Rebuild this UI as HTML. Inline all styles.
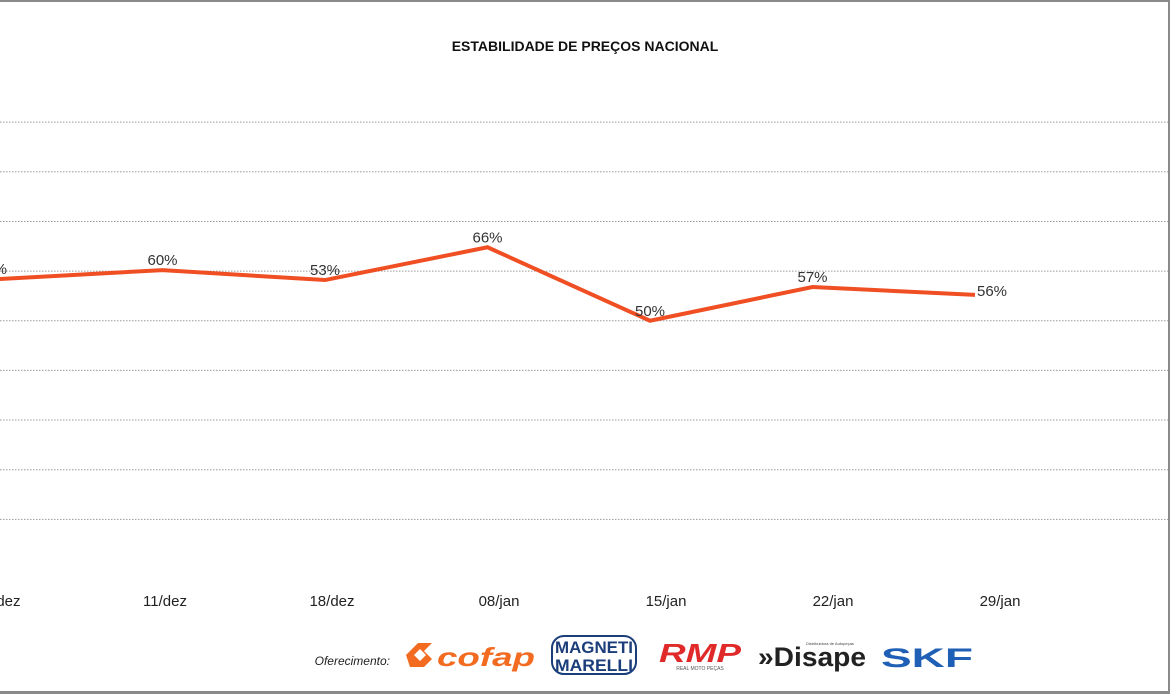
<!DOCTYPE html>
<html><head><meta charset="utf-8"><style>
body{margin:0;background:#fff;}
#wrap{position:relative;width:1170px;height:694px;overflow:hidden;font-family:"Liberation Sans",sans-serif;}
svg text{font-family:"Liberation Sans",sans-serif;}
</style></head><body>
<div id="wrap">
<svg id="chart" width="1170" height="694">
  <rect x="0" y="0" width="1170" height="2" fill="#8a8a8a"/>
  <rect x="0" y="691" width="1170" height="3" fill="#8a8a8a"/>
  <rect x="1168" y="0" width="2" height="694" fill="#8a8a8a"/>
  <text x="585" y="51" text-anchor="middle" font-size="14" font-weight="bold" fill="#111">ESTABILIDADE DE PREÇOS NACIONAL</text>
  <g id="grid"></g>
  <g id="series"></g>
  <g id="xaxis"></g>
  <text x="390" y="665" text-anchor="end" font-size="12" font-style="italic" fill="#222">Oferecimento:</text>
  <g>
    <path d="M406 655 l12 -12 h14 l-8 8 l8 8 l-8 8 h-14 z M414 655 l6 6 l6 -6 l-6 -6 z" fill="#f26b21" fill-rule="evenodd"/>
    <text x="437" y="666" font-size="26" font-weight="bold" font-style="italic" fill="#f26b21" textLength="98" lengthAdjust="spacingAndGlyphs">cofap</text>
  </g>
  <g>
    <rect x="552" y="636" width="84" height="38" rx="12" fill="none" stroke="#1b3d7a" stroke-width="2"/>
    <text x="594" y="653" text-anchor="middle" font-size="17" font-weight="bold" fill="#1b3d7a" textLength="78" lengthAdjust="spacingAndGlyphs">MAGNETI</text>
    <text x="594" y="671" text-anchor="middle" font-size="17" font-weight="bold" fill="#1b3d7a" textLength="78" lengthAdjust="spacingAndGlyphs">MARELLI</text>
  </g>
  <g>
    <text x="659" y="662" font-size="26" font-weight="bold" font-style="italic" fill="#e02a2a" textLength="82" lengthAdjust="spacingAndGlyphs">RMP</text>
    <text x="700" y="670" text-anchor="middle" font-size="5" fill="#555">REAL MOTO PEÇAS</text>
  </g>
  <g>
    <text x="758" y="666" font-size="27" font-weight="bold" fill="#222" textLength="108" lengthAdjust="spacingAndGlyphs">»Disape</text>
    <text x="806" y="645" font-size="4" fill="#444">Distribuidora de Autopeças</text>
  </g>
  <g>
    <text x="881" y="667" font-size="27" font-weight="bold" fill="#1f5fb5" textLength="92" lengthAdjust="spacingAndGlyphs">SKF</text>
  </g>
</svg>
</div>
<script>
const categories=["04/dez","11/dez","18/dez","08/jan","15/jan","22/jan","29/jan"];
const values=[58.4,60.2,58.2,64.8,50,56.8,55.2];
const valueLabels=["58%","60%","53%","66%","50%","57%","56%"];
const gridTicks=[10,20,30,40,50,60,70,80,90];
const NS="http://www.w3.org/2000/svg";
function y(v){return 569-v*4.965;}
function xp(i){return i*162.5;}
function xl(i){return i*167-2;}
const grid=document.getElementById('grid');
gridTicks.forEach(t=>{
  const l=document.createElementNS(NS,'line');
  l.setAttribute('x1',0);l.setAttribute('x2',1168);
  l.setAttribute('y1',y(t));l.setAttribute('y2',y(t));
  l.setAttribute('stroke','#999');l.setAttribute('stroke-width','1');l.setAttribute('stroke-dasharray','1.5 1.5');
  
  
  grid.appendChild(l);
});
const s=document.getElementById('series');
const p=document.createElementNS(NS,'polyline');
p.setAttribute('points',values.map((v,i)=>xp(i)+','+y(v)).join(' '));
p.setAttribute('fill','none');p.setAttribute('stroke','#f04e23');p.setAttribute('stroke-width','4');p.setAttribute('stroke-linejoin','miter');


s.appendChild(p);
values.forEach((v,i)=>{
  const t=document.createElementNS(NS,'text');
  const last=i===values.length-1;
  t.setAttribute('x',last?xp(i)+2:(i===0?xp(i)-8:xp(i)));t.setAttribute('y',last?y(v)+1:y(v)-5);
  t.setAttribute('text-anchor',last?'start':'middle');
  t.setAttribute('font-size','15');t.setAttribute('fill','#333');
  t.textContent=valueLabels[i];
  
  
  s.appendChild(t);
});
const xa=document.getElementById('xaxis');
categories.forEach((c,i)=>{
  const t=document.createElementNS(NS,'text');
  t.setAttribute('x',xl(i));t.setAttribute('y',606);
  t.setAttribute('text-anchor','middle');t.setAttribute('font-size','15');t.setAttribute('fill','#222');
  t.textContent=c;
  
  
  xa.appendChild(t);
});
</script>
</body></html>
